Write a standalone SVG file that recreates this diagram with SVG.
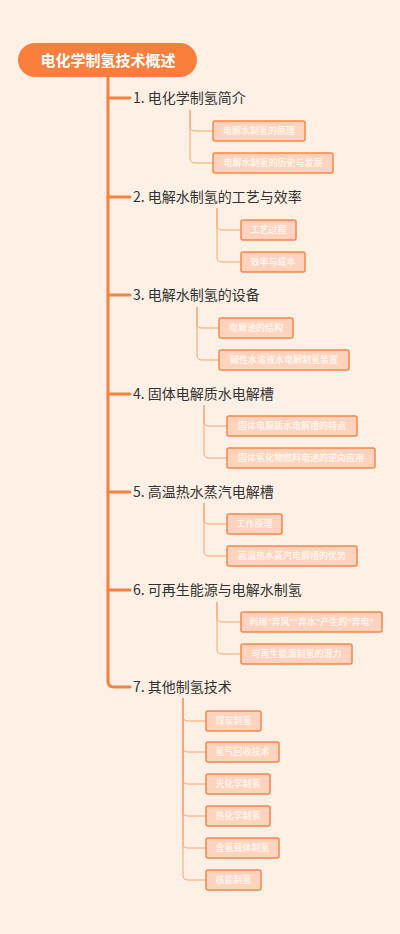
<svg xmlns="http://www.w3.org/2000/svg" width="400" height="934" viewBox="0 0 400 934">
<style>
.bg{fill:#FFF0E5}
.main{stroke:#F9813F;stroke-width:3;fill:none;stroke-linecap:round}
.sub{stroke:#F9A36F;stroke-width:1;fill:none}
.root rect{fill:#FA7F3E}
.root text{fill:#FFFFFF;font-family:"Noto Sans CJK SC","Liberation Sans",sans-serif;font-size:15px;font-weight:bold;text-anchor:middle}
.br text{fill:#333333;font-family:"Noto Sans CJK SC","Liberation Sans",sans-serif;font-size:14px}
.leaf rect{fill:#FFD3BD;stroke:#F9874A;stroke-width:1.5}
.leaf text{fill:#FFF3EC;font-family:"Liberation Sans","Noto Sans CJK SC",sans-serif;font-size:9px;font-weight:bold;text-anchor:middle}
</style>
<rect class="bg" x="0" y="0" width="400" height="934"/>
<g id="connectors">
<path class="main" d="M108,77 V681 Q108,687 114,687 H130"/>
<path class="main" d="M108,98 H130"/>
<path class="main" d="M108,197 H130"/>
<path class="main" d="M108,295 H130"/>
<path class="main" d="M108,394 H130"/>
<path class="main" d="M108,492 H130"/>
<path class="main" d="M108,590 H130"/>
<path class="sub" d="M190,110 V126 Q190,131 195,131 H213"/>
<path class="sub" d="M190,110 V158 Q190,163 195,163 H213"/>
<path class="sub" d="M217,208 V225 Q217,230 222,230 H241"/>
<path class="sub" d="M217,208 V257 Q217,262 222,262 H241"/>
<path class="sub" d="M197,307 V323 Q197,328 202,328 H219"/>
<path class="sub" d="M197,307 V355 Q197,360 202,360 H219"/>
<path class="sub" d="M204,405 V421 Q204,426 209,426 H227"/>
<path class="sub" d="M204,405 V453 Q204,458 209,458 H227"/>
<path class="sub" d="M204,503 V519 Q204,524 209,524 H227"/>
<path class="sub" d="M204,503 V551 Q204,556 209,556 H227"/>
<path class="sub" d="M217,602 V617 Q217,622 222,622 H241"/>
<path class="sub" d="M217,602 V649 Q217,654 222,654 H241"/>
<path class="sub" d="M183,698 V716 Q183,721 188,721 H206"/>
<path class="sub" d="M183,698 V747 Q183,752 188,752 H206"/>
<path class="sub" d="M183,698 V779 Q183,784 188,784 H206"/>
<path class="sub" d="M183,698 V811 Q183,816 188,816 H206"/>
<path class="sub" d="M183,698 V843 Q183,848 188,848 H206"/>
<path class="sub" d="M183,698 V875 Q183,880 188,880 H206"/>
</g>
<g id="root" class="root"><rect x="18" y="43" width="179" height="34" rx="17"/><text x="108" y="65.5">电化学制氢技术概述</text></g>
<g id="b1" class="br"><text x="133" y="103">1. 电化学制氢简介</text></g>
<g id="b2" class="br"><text x="133" y="202">2. 电解水制氢的工艺与效率</text></g>
<g id="b3" class="br"><text x="133" y="300">3. 电解水制氢的设备</text></g>
<g id="b4" class="br"><text x="133" y="399">4. 固体电解质水电解槽</text></g>
<g id="b5" class="br"><text x="133" y="497">5. 高温热水蒸汽电解槽</text></g>
<g id="b6" class="br"><text x="133" y="595">6. 可再生能源与电解水制氢</text></g>
<g id="b7" class="br"><text x="133" y="692">7. 其他制氢技术</text></g>
<g id="l1a" class="leaf"><rect x="213" y="121" width="92" height="20" rx="2"/><text x="259" y="134.2">电解水制氢的原理</text></g>
<g id="l1b" class="leaf"><rect x="213" y="153" width="120" height="20" rx="2"/><text x="273" y="166.2">电解水制氢的历史与发展</text></g>
<g id="l2a" class="leaf"><rect x="241" y="220" width="55" height="20" rx="2"/><text x="268.5" y="233.2">工艺过程</text></g>
<g id="l2b" class="leaf"><rect x="241" y="252" width="64" height="20" rx="2"/><text x="273" y="265.2">效率与成本</text></g>
<g id="l3a" class="leaf"><rect x="219" y="318" width="74" height="20" rx="2"/><text x="256" y="331.2">电解池的结构</text></g>
<g id="l3b" class="leaf"><rect x="219" y="350" width="130" height="20" rx="2"/><text x="284" y="363.2">碱性水溶液水电解制氢装置</text></g>
<g id="l4a" class="leaf"><rect x="227" y="416" width="130" height="20" rx="2"/><text x="292" y="429.2">固体电解质水电解槽的特点</text></g>
<g id="l4b" class="leaf"><rect x="227" y="448" width="148" height="20" rx="2"/><text x="301" y="461.2">固体氧化物燃料电池的逆向应用</text></g>
<g id="l5a" class="leaf"><rect x="227" y="514" width="55" height="20" rx="2"/><text x="254.5" y="527.2">工作原理</text></g>
<g id="l5b" class="leaf"><rect x="227" y="546" width="130" height="20" rx="2"/><text x="292" y="559.2">高温热水蒸汽电解槽的优势</text></g>
<g id="l6a" class="leaf"><rect x="241" y="612" width="141" height="20" rx="2"/><text x="311.5" y="625.2">利用"弃风""弃水"产生的"弃电"</text></g>
<g id="l6b" class="leaf"><rect x="241" y="644" width="111" height="20" rx="2"/><text x="296.5" y="657.2">可再生能源制氢的潜力</text></g>
<g id="l7a" class="leaf"><rect x="206" y="711" width="55" height="20" rx="2"/><text x="233.5" y="724.2">煤炭制氢</text></g>
<g id="l7b" class="leaf"><rect x="206" y="742" width="73" height="20" rx="2"/><text x="242.5" y="755.2">氢气回收技术</text></g>
<g id="l7c" class="leaf"><rect x="206" y="774" width="64" height="20" rx="2"/><text x="238" y="787.2">光化学制氢</text></g>
<g id="l7d" class="leaf"><rect x="206" y="806" width="64" height="20" rx="2"/><text x="238" y="819.2">热化学制氢</text></g>
<g id="l7e" class="leaf"><rect x="206" y="838" width="73" height="20" rx="2"/><text x="242.5" y="851.2">含氢载体制氢</text></g>
<g id="l7f" class="leaf"><rect x="206" y="870" width="55" height="20" rx="2"/><text x="233.5" y="883.2">核能制氢</text></g>
</svg>
